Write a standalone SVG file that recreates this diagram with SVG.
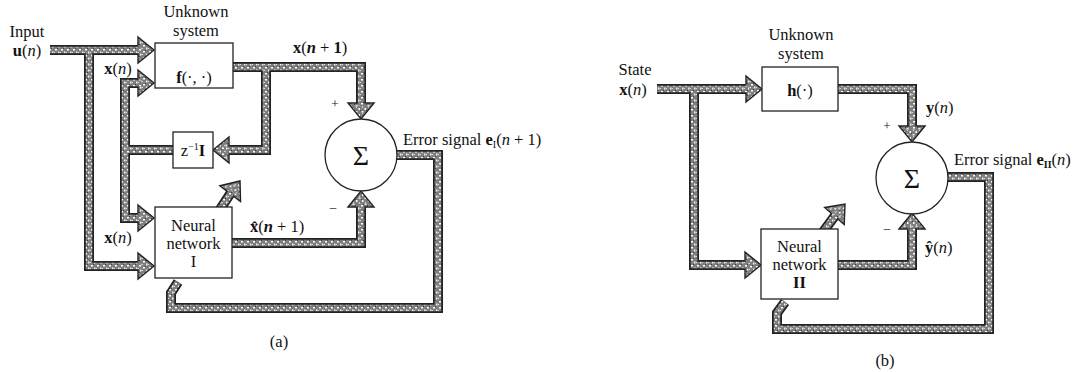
<svg xmlns="http://www.w3.org/2000/svg" xmlns:xlink="http://www.w3.org/1999/xlink" width="1080" height="372" viewBox="0 0 1080 372">
<style>
.t{font-family:"Liberation Serif",serif;font-size:16.5px;fill:#111}
.m{text-anchor:middle}
.b{font-weight:bold}
.i{font-style:italic}
.sg{font-size:28px}
.sm{font-size:13px}
.po{fill:none;stroke:#222;stroke-width:10;stroke-linejoin:miter}
.pi{fill:none;stroke:url(#spk);stroke-width:6.5;stroke-linejoin:miter}
.hd{fill:url(#spk);stroke:#222;stroke-width:1.4;stroke-linejoin:miter}
.bx{fill:#fff;stroke:#222;stroke-width:1.3}
</style>
<defs>
<pattern id="spk" width="6" height="6" patternUnits="userSpaceOnUse">
<rect width="6" height="6" fill="#7e7e7e"/>
<rect x="1" y="1" width="2" height="1.5" fill="#fff"/>
<rect x="4" y="3.5" width="1.5" height="2" fill="#eee"/>
<rect x="3" y="0" width="1" height="1" fill="#444"/>
<rect x="0" y="4" width="1" height="1" fill="#ddd"/>
</pattern>
<polygon id="ah" points="-16,-13 0,0 -16,13"/>
</defs>
<rect width="1080" height="372" fill="#fff"/>

<g id="connectors">
<g class="po">
<path d="M50,50 H141"/>
<path d="M89,50 V266 H141"/>
<path d="M141,83 H125 V218 H141"/>
<path d="M176,150 H125"/>
<path d="M228,67 H361 V106"/>
<path d="M266,67 V150 H226"/>
<path d="M228,243 H361 V204"/>
<path d="M390,155 H438 V308 H171 V293 L178,282"/>
<path d="M219,211 L232,191"/>
<path d="M657,89 H749"/>
<path d="M694,89 V265 H748"/>
<path d="M833,89 H912 V129"/>
<path d="M833,265 H912 V226"/>
<path d="M940,177 H989 V329 H777 V313 L785,302"/>
<path d="M823,232 L836.4,213.8"/>
</g>
<g class="hd">
<use xlink:href="#ah" href="#ah" transform="translate(154,50)"/>
<use xlink:href="#ah" href="#ah" transform="translate(154,83)"/>
<use xlink:href="#ah" href="#ah" transform="translate(154,218)"/>
<use xlink:href="#ah" href="#ah" transform="translate(154,266)"/>
<use xlink:href="#ah" href="#ah" transform="translate(361,119) rotate(90)"/>
<use xlink:href="#ah" href="#ah" transform="translate(213,150) rotate(180)"/>
<use xlink:href="#ah" href="#ah" transform="translate(361,191) rotate(-90)"/>
<use xlink:href="#ah" href="#ah" transform="translate(240,181) rotate(-52.4)"/>
<use xlink:href="#ah" href="#ah" transform="translate(762,89)"/>
<use xlink:href="#ah" href="#ah" transform="translate(761,265)"/>
<use xlink:href="#ah" href="#ah" transform="translate(912,142) rotate(90)"/>
<use xlink:href="#ah" href="#ah" transform="translate(912,213) rotate(-90)"/>
<use xlink:href="#ah" href="#ah" transform="translate(845,204) rotate(-48.7)"/>
</g>
<g class="pi">
<path d="M50,50 H141"/>
<path d="M89,50 V266 H141"/>
<path d="M141,83 H125 V218 H141"/>
<path d="M176,150 H125"/>
<path d="M228,67 H361 V106"/>
<path d="M266,67 V150 H226"/>
<path d="M228,243 H361 V204"/>
<path d="M390,155 H438 V308 H171 V293 L178,282"/>
<path d="M219,211 L232,191"/>
<path d="M657,89 H749"/>
<path d="M694,89 V265 H748"/>
<path d="M833,89 H912 V129"/>
<path d="M833,265 H912 V226"/>
<path d="M940,177 H989 V329 H777 V313 L785,302"/>
<path d="M823,232 L836.4,213.8"/>
</g>
</g>

<g id="f-box">
<rect class="bx" x="155" y="43" width="78" height="45"/>
<text class="t m" x="194" y="83"><tspan class="b">f</tspan>(·, ·)</text>
</g>
<g id="z-box">
<rect class="bx" x="173" y="132" width="40" height="36"/>
<text class="t m" x="193" y="156">z<tspan font-size="10" dy="-6">−1</tspan><tspan class="b" dy="6">I</tspan></text>
</g>
<g id="nn1">
<rect class="bx" x="155" y="207" width="77" height="71"/>
<text class="t m" x="193.5" y="231">Neural</text>
<text class="t m" x="193.5" y="249">network</text>
<text class="t m" x="193.5" y="267">I</text>
</g>
<g id="sum1">
<circle class="bx" cx="361" cy="155" r="36"/>
<text class="t m sg" x="361" y="165">Σ</text>
</g>
<g id="h-box">
<rect class="bx" x="762" y="67" width="76" height="44"/>
<text class="t m" x="800" y="96"><tspan class="b">h</tspan>(·)</text>
</g>
<g id="nn2">
<rect class="bx" x="761" y="229" width="77" height="70"/>
<text class="t m" x="799.5" y="252">Neural</text>
<text class="t m" x="799.5" y="270">network</text>
<text class="t m b" x="799.5" y="288">II</text>
</g>
<g id="sum2">
<circle class="bx" cx="912" cy="178" r="36"/>
<text class="t m sg" x="912" y="188">Σ</text>
</g>

<g id="labels">
<text class="t m" x="27" y="37">Input</text>
<text class="t m" x="27" y="56"><tspan class="b">u</tspan>(<tspan class="i">n</tspan>)</text>
<text class="t m" x="196" y="17">Unknown</text>
<text class="t m" x="196" y="36">system</text>
<text class="t m" x="118" y="74"><tspan class="b">x</tspan>(<tspan class="i">n</tspan>)</text>
<text class="t m" x="320" y="53"><tspan class="b">x</tspan>(<tspan class="i b">n</tspan> + <tspan class="b">1</tspan>)</text>
<text class="t m sm" x="335" y="108">+</text>
<text class="t" x="403" y="145">Error signal <tspan class="b">e</tspan><tspan font-size="10" dy="3">I</tspan><tspan dy="-3">(</tspan><tspan class="i">n</tspan> + 1)</text>
<text class="t m sm" x="333" y="211">–</text>
<text class="t" x="250" y="232"><tspan class="b">x̂</tspan>(<tspan class="i b">n</tspan> + 1)</text>
<text class="t m" x="118" y="243"><tspan class="b">x</tspan>(<tspan class="i">n</tspan>)</text>
<text class="t m" x="279" y="347">(a)</text>

<text class="t m" x="635" y="75">State</text>
<text class="t m" x="633" y="95"><tspan class="b">x</tspan>(<tspan class="i">n</tspan>)</text>
<text class="t m" x="801" y="40">Unknown</text>
<text class="t m" x="801" y="59">system</text>
<text class="t" x="926" y="113"><tspan class="b">y</tspan>(<tspan class="i">n</tspan>)</text>
<text class="t m sm" x="887" y="130">+</text>
<text class="t" x="954" y="165">Error signal <tspan class="b">e</tspan><tspan class="b" font-size="10" dy="3">II</tspan><tspan dy="-3">(</tspan><tspan class="i">n</tspan>)</text>
<text class="t m sm" x="887" y="232">–</text>
<text class="t" x="925" y="253"><tspan class="b">ŷ</tspan>(<tspan class="i">n</tspan>)</text>
<text class="t m" x="885" y="366">(b)</text>
</g>
</svg>
